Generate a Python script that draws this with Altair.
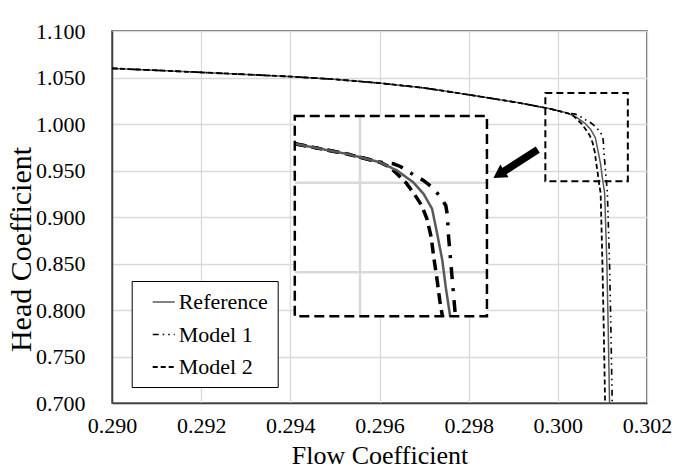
import altair as alt
import numpy as np
import pandas as pd

series_names = ["Reference", "Model 1", "Model 2"]

# upper branch shared by the three curves
common_flow = [0.2900, 0.2910, 0.2920, 0.2930, 0.2940, 0.2950, 0.2960, 0.2970,
               0.2980, 0.2990, 0.29924, 0.29984, 0.30023]
common_head = [1.0598, 1.0577, 1.0555, 1.0533, 1.0510, 1.0480, 1.0440, 1.0388,
               1.0315, 1.0238, 1.0218, 1.0162, 1.0115]

ref_flow = [0.30043, 0.30062, 0.30074, 0.30084, 0.30090, 0.30096, 0.30100,
            0.30105, 0.30110, 0.30113, 0.30116]
ref_head = [1.0069, 1.0003, 0.9939, 0.9855, 0.9715, 0.9566, 0.9416,
            0.9258, 0.8500, 0.7800, 0.7000]

m1_flow = [0.30039, 0.30047, 0.30062, 0.30074, 0.30084, 0.30094, 0.30100, 0.30102,
           0.30103, 0.30105, 0.30107, 0.30109, 0.30111, 0.30116, 0.30119, 0.30122]
m1_head = [1.0106, 1.0091, 1.0046, 1.0013, 0.9975, 0.9920, 0.9873, 0.9817,
           0.9715, 0.9603, 0.9491, 0.9380, 0.9268, 0.8500, 0.7800, 0.7000]

m2_flow = [0.30035, 0.30044, 0.30054, 0.30063, 0.30072, 0.30078, 0.30083,
           0.30086, 0.30090, 0.30093, 0.30096, 0.30100, 0.30103, 0.30106]
m2_head = [1.0087, 1.0046, 0.9998, 0.9939, 0.9873, 0.9799, 0.9696,
           0.9584, 0.9454, 0.9342, 0.9258, 0.8500, 0.7800, 0.7000]

x_ticks = [0.290, 0.292, 0.294, 0.296, 0.298, 0.300, 0.302]
y_ticks = [0.700, 0.750, 0.800, 0.850, 0.900, 0.950, 1.000, 1.050, 1.100]

# zoomed region (source) and where its magnified view is drawn (inset)
zoom_src_flow = [0.29924, 0.30148]
zoom_src_head = [0.92540, 1.03725]
inset_flow = [0.29410, 0.29841]
inset_head = [0.79322, 1.00851]
marker_flow = [0.29972, 0.30157]
marker_head = [0.93854, 1.03326]
arrow_flow = [0.29955, 0.29872]
arrow_head = [0.97250, 0.94693]
inset_grid_flow = [0.300]
inset_grid_head = [1.000, 0.950]

curves = {
    "Reference": (common_flow + ref_flow, common_head + ref_head),
    "Model 1": (common_flow + m1_flow, common_head + m1_head),
    "Model 2": (common_flow + m2_flow, common_head + m2_head),
}

rows = []
for name, (fl, hd) in curves.items():
    for i, (f, h) in enumerate(zip(fl, hd)):
        rows.append({"series": name, "flow": f, "head": h, "order": i})
main_df = pd.DataFrame(rows)

sx = (inset_flow[1] - inset_flow[0]) / (zoom_src_flow[1] - zoom_src_flow[0])
sy = (inset_head[1] - inset_head[0]) / (zoom_src_head[1] - zoom_src_head[0])


def map_x(f):
    return inset_flow[0] + (np.asarray(f) - zoom_src_flow[0]) * sx


def map_y(h):
    return inset_head[0] + (np.asarray(h) - zoom_src_head[0]) * sy


def clip_to_src(fl, hd):
    fl = np.asarray(fl, dtype=float)
    hd = np.asarray(hd, dtype=float)
    x0 = zoom_src_flow[0]
    y0 = zoom_src_head[0]
    y_left = np.interp(x0, fl, hd)
    x_bot = np.interp(y0, hd[::-1], fl[::-1])
    inside = (fl > x0) & (hd > y0)
    f = np.concatenate([[x0], fl[inside], [x_bot]])
    h = np.concatenate([[y_left], hd[inside], [y0]])
    return f, h


irows = []
for name, (fl, hd) in curves.items():
    f, h = clip_to_src(fl, hd)
    for i, (a, b) in enumerate(zip(map_x(f), map_y(h))):
        irows.append({"series": name, "flow": float(a), "head": float(b), "order": i})
inset_df = pd.DataFrame(irows)

grid_rows = []
for g in inset_grid_flow:
    gx = float(map_x(g))
    grid_rows.append({"x": gx, "x2": gx, "y": inset_head[0], "y2": inset_head[1]})
for g in inset_grid_head:
    gy = float(map_y(g))
    grid_rows.append({"x": inset_flow[0], "x2": inset_flow[1], "y": gy, "y2": gy})
grid_df = pd.DataFrame(grid_rows)

marker_df = pd.DataFrame([{"x": marker_flow[0], "x2": marker_flow[1],
                           "y": marker_head[0], "y2": marker_head[1]}])
inset_box_df = pd.DataFrame([{"x": inset_flow[0], "x2": inset_flow[1],
                              "y": inset_head[0], "y2": inset_head[1]}])
arrow_df = pd.DataFrame([{"x": arrow_flow[0], "x2": arrow_flow[1],
                          "y": arrow_head[0], "y2": arrow_head[1]}])
head_df = pd.DataFrame([{"x": arrow_flow[1], "y": arrow_head[1]}])

FONT = "Liberation Serif"
x_scale = alt.Scale(domain=[0.290, 0.302], nice=False, zero=False)
y_scale = alt.Scale(domain=[0.700, 1.100], nice=False, zero=False)

x_axis = alt.Axis(values=x_ticks, format=".3f", title="Flow Coefficient",
                  grid=True, gridColor="#d9d9d9", gridWidth=1.3, tickSize=0,
                  labelFont=FONT, labelFontSize=22, labelColor="black",
                  labelPadding=12, labelFlush=False, labelOverlap=False,
                  titleFont=FONT, titleFontSize=26, titleFontWeight="normal",
                  titleColor="black", titleY=60, titleBaseline="alphabetic",
                  domainColor="#404040", domainWidth=1.5)
y_axis = alt.Axis(values=y_ticks, format=".3f", title="Head Coefficient",
                  grid=True, gridColor="#d9d9d9", gridWidth=1.3, tickSize=0,
                  labelFont=FONT, labelFontSize=22, labelColor="black",
                  labelPadding=27, labelFlush=False, labelOverlap=False,
                  titleFont=FONT, titleFontSize=30, titleFontWeight="normal",
                  titleColor="black", titleX=-82, titleY=218, titleAngle=-90,
                  titleAlign="center", titleBaseline="alphabetic",
                  domainColor="#404040", domainWidth=1.5)

X = lambda f="flow": alt.X(f"{f}:Q", scale=x_scale, axis=x_axis)
Y = lambda f="head": alt.Y(f"{f}:Q", scale=y_scale, axis=y_axis)

legend = alt.Legend(orient="none", legendX=19.7, legendY=250, title=None,
                    fillColor="white", strokeColor="black", padding=9,
                    symbolType="stroke", symbolSize=484, symbolOffset=11,
                    labelOffset=3, labelFont=FONT, labelFontSize=22,
                    labelColor="black", rowPadding=9.5)

main_lines = alt.Chart(main_df).mark_line(strokeCap="butt").encode(
    x=X(), y=Y(),
    color=alt.Color("series:N", scale=alt.Scale(domain=series_names,
                    range=["#595959", "black", "black"]), legend=legend),
    strokeDash=alt.StrokeDash("series:N", scale=alt.Scale(domain=series_names,
                    range=[[1, 0], [6, 4, 1.5, 4, 1.5, 4], [5, 3]]), legend=legend),
    strokeWidth=alt.StrokeWidth("series:N", scale=alt.Scale(domain=series_names,
                    range=[1.5, 1.8, 2.0]), legend=legend),
    order="order:Q",
)

marker_box = alt.Chart(marker_df).mark_rect(
    fill="transparent", stroke="black", strokeWidth=2, strokeDash=[7, 4]
).encode(x=X("x"), x2="x2:Q", y=Y("y"), y2="y2:Q")

inset_bg = alt.Chart(inset_box_df).mark_rect(fill="white", strokeWidth=0).encode(
    x=X("x"), x2="x2:Q", y=Y("y"), y2="y2:Q")

inset_grid = alt.Chart(grid_df).mark_rule(color="#d9d9d9", strokeWidth=2.5).encode(
    x=X("x"), x2="x2:Q", y=Y("y"), y2="y2:Q")

inset_styles = {
    "Reference": ("#595959", 2.5, [1, 0]),
    "Model 1": ("black", 3.5, [12, 9, 3, 9]),
    "Model 2": ("black", 3.5, [11, 6]),
}
inset_layers = []
for name in ["Model 2", "Model 1", "Reference"]:
    col, w, dash = inset_styles[name]
    inset_layers.append(
        alt.Chart(inset_df).transform_filter(alt.datum.series == name)
        .mark_line(color=col, strokeWidth=w, strokeDash=dash, strokeCap="butt")
        .encode(x=X(), y=Y(), order="order:Q")
    )

inset_border = alt.Chart(inset_box_df).mark_rect(
    fill="transparent", stroke="black", strokeWidth=2.5, strokeDash=[10, 5]
).encode(x=X("x"), x2="x2:Q", y=Y("y"), y2="y2:Q")

arrow_shaft = alt.Chart(arrow_df).mark_rule(color="black", strokeWidth=7.5).encode(
    x=X("x"), x2="x2:Q", y=Y("y"), y2="y2:Q")
arrow_tip = alt.Chart(head_df).mark_point(
    shape="triangle", filled=True, size=230, angle=237, color="black", opacity=1
).encode(x=X("x"), y=Y("y"))

chart = alt.layer(
    main_lines, marker_box, inset_bg, inset_grid, *inset_layers,
    inset_border, arrow_shaft, arrow_tip
).properties(
    width=535, height=372,
    padding={"left": 112, "top": 31, "right": 32, "bottom": 70},
    autosize=alt.AutoSizeParams(type="none"),
).configure_view(stroke="#404040", strokeWidth=1.5)

chart.save("out.html", embed_options={"renderer": "svg", "actions": False})
